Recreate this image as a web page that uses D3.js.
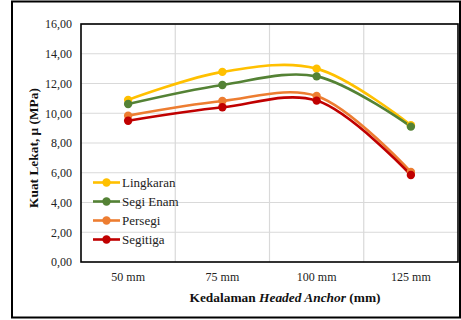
<!DOCTYPE html>
<html><head><meta charset="utf-8">
<script src="https://cdn.jsdelivr.net/npm/d3@7"></script>
<style>body{margin:0;background:#fff}svg{display:block}
svg text{font-family:"Liberation Serif","Times New Roman","DejaVu Serif",serif !important;}
</style>
</head><body>
<svg id="c" width="461" height="320"></svg>
<script>
const categories = ["50 mm","75 mm","100 mm","125 mm"];
const seriesNames = ["Lingkaran","Segi Enam","Persegi","Segitiga"];
const lingkaran = [10.9, 12.78, 13.0, 9.2];
const segiEnam  = [10.62, 11.9, 12.48, 9.1];
const persegi   = [9.84, 10.82, 11.16, 6.05];
const segitiga  = [9.5, 10.4, 10.85, 5.85];
const yTicks = [0,2,4,6,8,10,12,14,16];
const colors = ["#FFC000","#548235","#ED7D31","#C00000"];
const data = [lingkaran, segiEnam, persegi, segitiga];

const svg = d3.select("#c");
const L=81, R=458, T=24, B=262;
svg.append("rect").attr("x",12).attr("y",1.5).attr("width",448).attr("height",316)
  .attr("fill","#fff").attr("stroke","#000").attr("stroke-width",2);

const x = d3.scaleBand().domain(categories).range([L,R]);
const y = d3.scaleLinear().domain([0,16]).range([B,T]);

svg.append("g").selectAll("line").data(yTicks.slice(1)).join("line")
  .attr("x1",L).attr("x2",R).attr("y1",d=>y(d)).attr("y2",d=>y(d))
  .attr("stroke","#d9d9d9").attr("stroke-width",1.2);
svg.append("g").selectAll("line").data(categories.slice(1)).join("line")
  .attr("x1",d=>x(d)).attr("x2",d=>x(d)).attr("y1",T).attr("y2",B)
  .attr("stroke","#d9d9d9").attr("stroke-width",1.2);

const ya = svg.append("g").attr("transform",`translate(${L-6},0)`)
  .call(d3.axisLeft(y).tickValues(yTicks).tickSize(0).tickFormat(d=>d3.format(".2f")(d).replace(".",",")));
ya.select(".domain").remove();
ya.selectAll("text").attr("font-size",12).attr("fill","#222");
const xa = svg.append("g").attr("transform",`translate(0,${B+7.5})`)
  .call(d3.axisBottom(x).tickSize(0));
xa.select(".domain").remove();
xa.selectAll("text").attr("font-size",12).attr("fill","#222").attr("dy","0.71em");

const line = d3.line().x((d,i)=>x(categories[i])+x.bandwidth()/2).y(d=>y(d)).curve(d3.curveCatmullRom.alpha(0.5));
data.forEach((s,k)=>{
  svg.append("path").attr("d",line(s)).attr("fill","none").attr("stroke",colors[k]).attr("stroke-width",2.6);
});
data.forEach((s,k)=>{
  svg.append("g").selectAll("circle").data(s).join("circle")
    .attr("cx",(d,i)=>x(categories[i])+x.bandwidth()/2).attr("cy",d=>y(d)).attr("r",4.2).attr("fill",colors[k]);
});

svg.append("rect").attr("x",L).attr("y",T).attr("width",R-L).attr("height",B-T)
  .attr("fill","none").attr("stroke","#000").attr("stroke-width",1.6);

const lg = svg.append("g");
seriesNames.forEach((n,k)=>{
  const yy = 182.5 + k*19;
  lg.append("line").attr("x1",93).attr("x2",120).attr("y1",yy).attr("y2",yy).attr("stroke",colors[k]).attr("stroke-width",2.6);
  lg.append("circle").attr("cx",106.5).attr("cy",yy).attr("r",4.2).attr("fill",colors[k]);
  lg.append("text").attr("x",122).attr("y",yy).attr("dy","0.35em").attr("font-size",13).attr("fill","#222").text(n);
});

const xt = svg.append("text").attr("x",285).attr("y",302).attr("text-anchor","middle")
  .attr("font-size",13.4).attr("font-weight","bold").attr("fill","#111");
xt.append("tspan").text("Kedalaman ");
xt.append("tspan").attr("font-style","italic").text("Headed Anchor");
xt.append("tspan").text(" (mm)");
svg.append("text").attr("transform","translate(38,148) rotate(-90)").attr("text-anchor","middle")
  .attr("font-size",13.4).attr("font-weight","bold").attr("fill","#111")
  .text("Kuat Lekat, μ (MPa)");
</script>
</body></html>
